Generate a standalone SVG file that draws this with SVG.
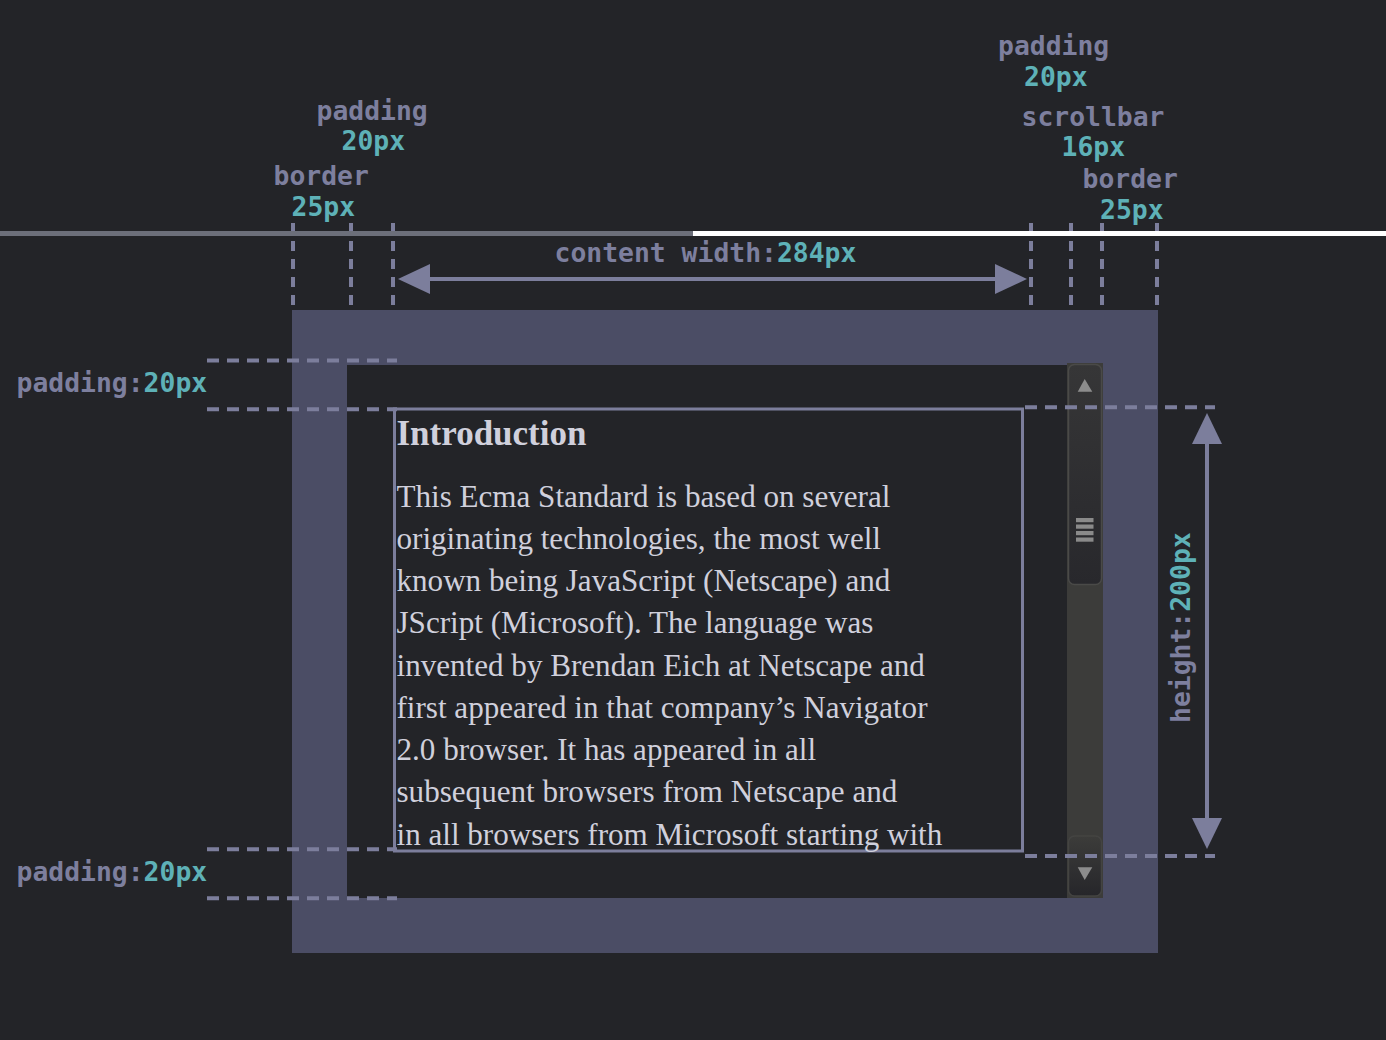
<svg xmlns="http://www.w3.org/2000/svg" width="1386" height="1040" viewBox="0 0 1386 1040">
<defs>
<style>
.lbl{font-family:"DejaVu Sans Mono","Liberation Mono",monospace;font-size:26.4px;font-weight:bold;fill:#7d7f9e}
.val{fill:#5eb1b7}
.dash{stroke:#7c7e9c;stroke-width:4;fill:none}
.dv{stroke-dasharray:10 8}
.dh{stroke-dasharray:12 8}
.arr{stroke:#7c7e9c;stroke-width:4;fill:none}
.head{fill:#7c7e9c}
.body{font-family:"Liberation Serif","Times New Roman",serif;font-size:31.1px;fill:#d0d0dc}
.h1{font-family:"Liberation Serif","Times New Roman",serif;font-size:35px;font-weight:bold;fill:#d0d0dc}
</style>
<linearGradient id="thumbGrad" x1="0" y1="0" x2="0" y2="1">
<stop offset="0" stop-color="#363637"/>
<stop offset="1" stop-color="#28282c"/>
</linearGradient>
<linearGradient id="btnGrad" x1="0" y1="0" x2="0" y2="1">
<stop offset="0" stop-color="#3c3c3a"/>
<stop offset="1" stop-color="#26262a"/>
</linearGradient>
</defs>
<rect x="0" y="0" width="1386" height="1040" fill="#232428"/>

<g id="box">
<rect x="292" y="310" width="866" height="643" fill="#4b4d65"/>
<rect x="347" y="365" width="720" height="533" fill="#232428"/>
</g>

<g id="scrollbar">
<rect x="1067" y="363" width="36" height="535" fill="#3c3c3a"/>
<rect x="1068.5" y="364.5" width="33" height="220" rx="6" fill="url(#thumbGrad)" stroke="#4a4a48" stroke-width="1.5"/>
<rect x="1068.5" y="836" width="33" height="60" rx="6" fill="url(#btnGrad)" stroke="#444442" stroke-width="1.5"/>
<polygon points="1084.7,379 1092.3,391.7 1077.7,391.7" fill="#8c8c8c"/>
<polygon points="1077.7,867.3 1092.3,867.3 1084.7,880" fill="#8c8c8c"/>
<g fill="#8a8a8a">
<rect x="1076" y="518" width="17.5" height="4.2"/>
<rect x="1076" y="524.5" width="17.5" height="4.2"/>
<rect x="1076" y="531" width="17.5" height="4.2"/>
<rect x="1076" y="537.5" width="17.5" height="4.2"/>
</g>
</g>

<g id="content">
<rect x="394.5" y="409" width="628" height="442" fill="none" stroke="#7c7e9c" stroke-width="3"/>
<text class="h1" x="396.5" y="445">Introduction</text>
<text class="body" x="396.5" y="506.5">This Ecma Standard is based on several</text>
<text class="body" x="396.5" y="548.75">originating technologies, the most well</text>
<text class="body" x="396.5" y="591">known being JavaScript (Netscape) and</text>
<text class="body" x="396.5" y="633.25">JScript (Microsoft). The language was</text>
<text class="body" x="396.5" y="675.5">invented by Brendan Eich at Netscape and</text>
<text class="body" x="396.5" y="717.75">first appeared in that company’s Navigator</text>
<text class="body" x="396.5" y="760">2.0 browser. It has appeared in all</text>
<text class="body" x="396.5" y="802.25">subsequent browsers from Netscape and</text>
<text class="body" x="396.5" y="844.5">in all browsers from Microsoft starting with</text>
</g>

<g id="connectors">
<line class="dash dv" x1="293" y1="223" x2="293" y2="312"/>
<line class="dash dv" x1="351" y1="223" x2="351" y2="312"/>
<line class="dash dv" x1="393" y1="223" x2="393" y2="312"/>
<line class="dash dv" x1="1031" y1="223" x2="1031" y2="312"/>
<line class="dash dv" x1="1071" y1="223" x2="1071" y2="312"/>
<line class="dash dv" x1="1102" y1="223" x2="1102" y2="312"/>
<line class="dash dv" x1="1157" y1="223" x2="1157" y2="312"/>
<line class="dash dh" x1="207" y1="360.5" x2="397" y2="360.5"/>
<line class="dash dh" x1="207" y1="409.3" x2="397" y2="409.3"/>
<line class="dash dh" x1="207" y1="849.3" x2="397" y2="849.3"/>
<line class="dash dh" x1="207" y1="898.3" x2="397" y2="898.3"/>
<line class="dash dh" x1="1025" y1="407.3" x2="1215" y2="407.3"/>
<line class="dash dh" x1="1025" y1="856" x2="1215" y2="856"/>
<rect x="0" y="231" width="693" height="5" fill="#6c6f7a"/>
<rect x="693" y="231" width="693" height="5" fill="#ffffff"/>
<line class="arr" x1="425" y1="279" x2="1000" y2="279"/>
<polygon class="head" points="398,279 430,264 430,294"/>
<polygon class="head" points="1027,279 995,264 995,294"/>
<line class="arr" x1="1207" y1="440" x2="1207" y2="820"/>
<polygon class="head" points="1207,413 1222,444 1192,444"/>
<polygon class="head" points="1207,849 1222,818 1192,818"/>
</g>

<g id="labels">
<text class="lbl" x="316.5" y="119.5">padding</text>
<text class="lbl val" x="341.5" y="150">20px</text>
<text class="lbl" x="273.5" y="185">border</text>
<text class="lbl val" x="291.5" y="215.5">25px</text>
<text class="lbl" x="998" y="55">padding</text>
<text class="lbl val" x="1024" y="85.5">20px</text>
<text class="lbl" x="1021.5" y="125.5">scrollbar</text>
<text class="lbl val" x="1061.5" y="156">16px</text>
<text class="lbl" x="1082.5" y="188">border</text>
<text class="lbl val" x="1100" y="219">25px</text>
<text class="lbl" x="554.5" y="261.5">content width:<tspan class="val">284px</tspan></text>
<text class="lbl" x="16.5" y="392">padding:<tspan class="val">20px</tspan></text>
<text class="lbl" x="16.5" y="881">padding:<tspan class="val">20px</tspan></text>
<text class="lbl" transform="translate(1190,723) rotate(-90)">height:<tspan class="val">200px</tspan></text>
</g>
</svg>
